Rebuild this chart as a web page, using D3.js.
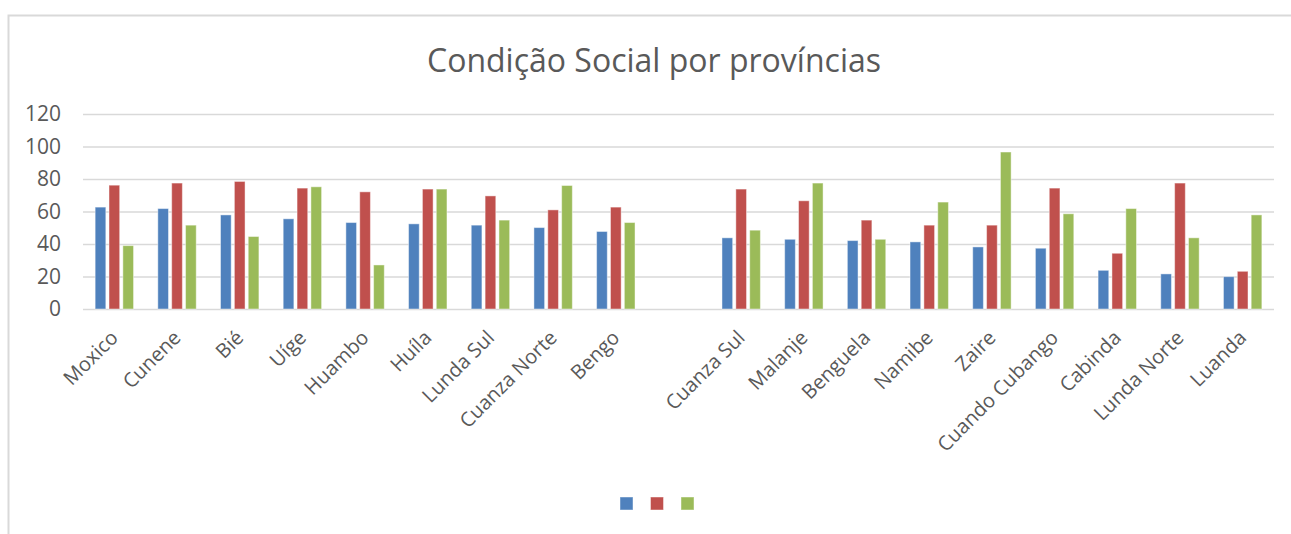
<!DOCTYPE html>
<html>
<head>
<meta charset="utf-8">
<script src="https://cdn.jsdelivr.net/npm/d3@7"></script>
<style>
  html, body { margin: 0; padding: 0; background: #fff; }
  svg { display: block; }
</style>
</head>
<body>
<svg id="chart" width="1291" height="534"></svg>
<script>
// Provinces in display order; the empty entry leaves a blank slot between the two groups.
const categories = ["Moxico", "Cunene", "Bié", "Uíge", "Huambo", "Huíla", "Lunda Sul", "Cuanza Norte", "Bengo", "",
  "Cuanza Sul", "Malanje", "Benguela", "Namibe", "Zaire", "Cuando Cubango", "Cabinda", "Lunda Norte", "Luanda"];

const serie1 = [62.7, 61.8, 57.9, 55.5, 53.2, 52.4, 51.6, 50.1, 47.7, null, 43.8, 42.9, 42.1, 41.3, 38.2, 37.4, 23.8, 21.6, 19.9];
const serie2 = [76.2, 77.5, 78.5, 74.4, 72.1, 73.8, 69.6, 61.0, 62.7, null, 73.8, 66.6, 54.7, 51.6, 51.6, 74.4, 34.3, 77.5, 23.2];
const serie3 = [39.0, 51.6, 44.6, 75.2, 27.1, 73.8, 54.7, 76.0, 53.2, null, 48.5, 77.5, 42.9, 65.8, 96.6, 58.6, 61.8, 43.8, 57.9];

const yTicks = [0, 20, 40, 60, 80, 100, 120];
const seriesColors = ["#4F81BD", "#C0504D", "#9BBB59"];
const titleText = "Condição Social por províncias";

const series = [serie1, serie2, serie3];
const svg = d3.select("#chart");
const W = 1291, H = 534;
const plot = { left: 83, right: 1274, top: 114, bottom: 309 };
const textColor = "#595959";
const fontFamily = "'Open Sans', 'Noto Sans', sans-serif";

// Chart area frame
svg.append("rect")
  .attr("x", 8.5).attr("y", 15.5)
  .attr("width", W).attr("height", H)
  .attr("fill", "#fff")
  .attr("stroke", "#d9d9d9")
  .attr("stroke-width", 2);

// Title
svg.append("text")
  .attr("x", 654).attr("y", 72)
  .attr("text-anchor", "middle")
  .attr("font-family", fontFamily)
  .attr("font-size", 32)
  .attr("fill", textColor)
  .text(titleText);

const x0 = d3.scaleBand()
  .domain(d3.range(categories.length))
  .range([plot.left, plot.right])
  .paddingInner(0).paddingOuter(0);

const x1 = d3.scaleBand()
  .domain([0, 1, 2])
  .range([-19.2, 19.2])
  .paddingInner(0.23);

const y = d3.scaleLinear()
  .domain([0, 120])
  .range([plot.bottom, plot.top]);

// Gridlines and y labels
const yAxis = d3.axisLeft(y)
  .tickValues(yTicks)
  .tickSize(-(plot.right - plot.left))
  .tickPadding(22);

const gy = svg.append("g")
  .attr("transform", `translate(${plot.left},0)`)
  .call(yAxis);
gy.select(".domain").remove();
gy.selectAll(".tick line")
  .attr("stroke", "#d9d9d9")
  .attr("stroke-width", 1.5);
gy.selectAll(".tick text")
  .attr("font-family", fontFamily)
  .attr("font-size", 21)
  .attr("fill", textColor);

// Bars
const groups = svg.append("g")
  .selectAll("g")
  .data(categories.map((c, i) => ({ c, i })))
  .join("g")
  .attr("transform", d => `translate(${x0(d.i) + x0.bandwidth() / 2},0)`);

groups.selectAll("rect")
  .data(d => series.map((s, k) => ({ k, v: s[d.i] })).filter(e => e.v != null))
  .join("rect")
  .attr("x", e => x1(e.k))
  .attr("width", x1.bandwidth())
  .attr("y", e => y(e.v))
  .attr("height", e => y(0) - y(e.v))
  .attr("fill", e => seriesColors[e.k])
  .attr("stroke", "#fff")
  .attr("stroke-opacity", 0.45)
  .attr("stroke-width", 1);

// Category labels, rotated
const xAxis = d3.axisBottom(x0)
  .tickSize(0)
  .tickFormat(i => categories[i]);

const gx = svg.append("g")
  .attr("transform", `translate(0,${plot.bottom})`)
  .call(xAxis);
gx.select(".domain").remove();
gx.selectAll(".tick text")
  .attr("font-family", fontFamily)
  .attr("font-size", 20)
  .attr("fill", textColor)
  .attr("text-anchor", "end")
  .attr("dy", null)
  .attr("y", 0)
  .attr("transform", "translate(5,30) rotate(-45)");

// Legend swatches
const legend = svg.append("g");
legend.selectAll("rect")
  .data(seriesColors)
  .join("rect")
  .attr("x", (c, i) => 620 + i * 30.5)
  .attr("y", 497)
  .attr("width", 13).attr("height", 13)
  .attr("fill", c => c)
  .attr("stroke", "#fff")
  .attr("stroke-opacity", 0.45);
</script>
</body>
</html>
